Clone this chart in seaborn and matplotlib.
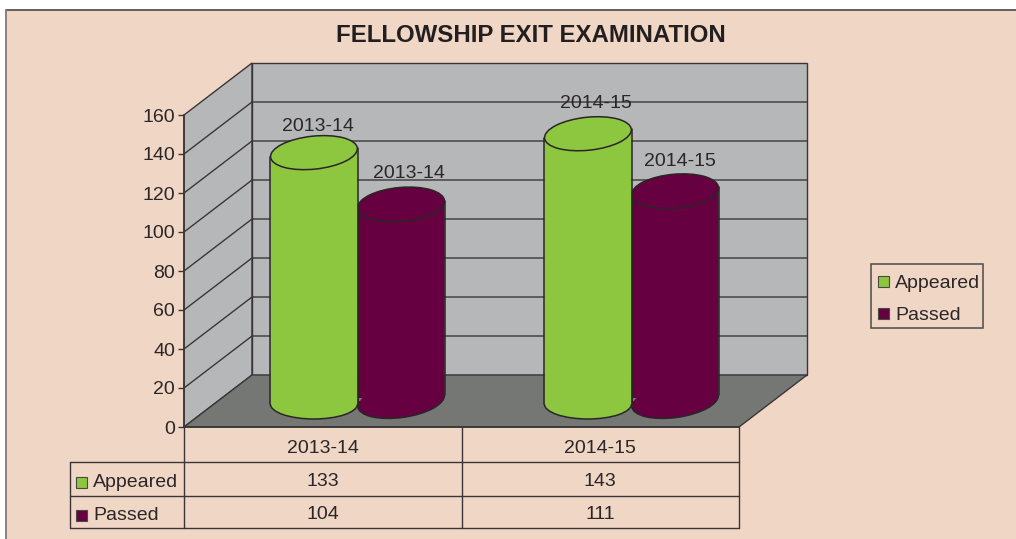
import matplotlib
matplotlib.use("Agg")
import matplotlib.pyplot as plt
from matplotlib.patches import Arc, Ellipse, Polygon, Rectangle
from matplotlib.transforms import Affine2D, IdentityTransform
from math import radians, sin
import pandas as pd
import seaborn as sns

years = ["2013-14", "2014-15"]
series_names = ["Appeared", "Passed"]
appeared = [133, 143]
passed = [104, 111]
y_ticks = [0, 20, 40, 60, 80, 100, 120, 140, 160]
title = "FELLOWSHIP EXIT EXAMINATION"

PANEL = "#EFD6C5"
WALL = "#B6B7B9"
FLOOR = "#757775"
LINE = "#3A3637"
TEXT = "#2B2627"
palette = {"Appeared": "#8DC63F", "Passed": "#660040"}

W, H = 1016, 539
FS = 14

sns.set_theme(style="white")
plt.rcParams["font.family"] = ["Liberation Sans", "DejaVu Sans"]
fig = plt.figure(figsize=(W / 100, H / 100), dpi=100, facecolor="white")


def axes_at(left, right, top, bottom, **kw):
    return fig.add_axes([left / W, 1 - bottom / H, (right - left) / W, (bottom - top) / H], **kw)


# ---- full-figure layer: panel, title, table, legend
px = axes_at(0, W, 0, H, zorder=0)
px.set_xlim(0, W)
px.set_ylim(H, 0)
px.axis("off")
px.add_patch(Rectangle((6, 10), W, H, fc=PANEL, ec="none"))
px.plot([5.5, W], [9.5, 9.5], color="#4A4646", lw=1.2)
px.plot([5.5, 5.5], [9.5, H], color="#8A807A", lw=1.4)
px.text(530.5, 36, title, ha="center", va="center", fontsize=17.3, fontweight="bold", color="#231F20")

# table
col_edges = [184, 462, 739]
row_edges = [462, 496, 528]
for x in col_edges:
    px.plot([x, x], [427, row_edges[-1]], color=LINE, lw=1.0)
px.plot([70, 70], [row_edges[0], row_edges[-1]], color=LINE, lw=1.0)
for y in row_edges:
    px.plot([70, col_edges[-1]], [y, y], color=LINE, lw=1.0)
for name, row_top, row_bot, vals in zip(series_names, row_edges[:-1], row_edges[1:], [appeared, passed]):
    cy = (row_top + row_bot) / 2 + 3
    px.add_patch(Rectangle((76, cy - 5.5), 11, 11, fc=palette[name], ec="#4A4A45", lw=0.8))
    px.text(93, cy + 0.5, name, ha="left", va="center", fontsize=FS, color=TEXT)
    for i, v in enumerate(vals):
        px.text((col_edges[i] + col_edges[i + 1]) / 2 - 0.5, cy - 0.5, str(v), ha="center", va="center",
                fontsize=FS, color=TEXT)

# legend box
px.add_patch(Rectangle((871, 264), 112, 64, fc=PANEL, ec="#5A5552", lw=1.2))
for name, ly in zip(series_names, [282, 314]):
    px.add_patch(Rectangle((878, ly - 6), 11, 11, fc=palette[name], ec="#4A4A45", lw=0.8))
    px.text(895, ly + 1, name, ha="left", va="center", fontsize=FS, color=TEXT)

# ---- front plane of the 3-D box: real value axis
ax = axes_at(184, 739, 115, 427, zorder=1)
ax.patch.set_alpha(0)
x0, x1 = -0.5, 1.5
y_max = y_ticks[-1]
ax.set_xlim(x0, x1)
ax.set_ylim(0, y_max)
dx = 68 / (555 / (x1 - x0))
dy = 52 / (312 / y_max)
kw = dict(clip_on=False, zorder=0)
ax.add_patch(Polygon([(x0, 0), (x0, y_max), (x0 + dx, y_max + dy), (x0 + dx, dy)], fc=WALL, ec=LINE, lw=1.0, **kw))
ax.add_patch(Polygon([(x0 + dx, dy), (x0 + dx, y_max + dy), (x1 + dx, y_max + dy), (x1 + dx, dy)],
                     fc=WALL, ec=LINE, lw=1.0, **kw))
ax.add_patch(Polygon([(x0, 0), (x1, 0), (x1 + dx, dy), (x0 + dx, dy)], fc=FLOOR, ec=LINE, lw=1.0, **kw))
for v in y_ticks[1:-1]:
    ax.plot([x0, x0 + dx, x1 + dx], [v, v + dy, v + dy], color=LINE, lw=1.0, clip_on=False, zorder=0.5)
for side in ("top", "right"):
    ax.spines[side].set_visible(False)
for side in ("left", "bottom"):
    ax.spines[side].set_color(LINE)
    ax.spines[side].set_linewidth(1.2)
ax.set_yticks(y_ticks)
ax.set_xticks(range(len(years)), years)
ax.tick_params(axis="y", left=True, length=4.5, width=1.0, color=LINE, labelsize=FS, labelcolor=TEXT, pad=2)
ax.tick_params(axis="x", bottom=False, labelsize=FS, labelcolor=TEXT, pad=3.5)

# ---- cylinders
df = pd.DataFrame({
    "year": years * 2,
    "series": [series_names[0]] * 2 + [series_names[1]] * 2,
    "count": appeared + passed,
})
cyl = axes_at(220.5, 768.5, 404 - 160 * 1.89, 404, zorder=2)
cyl.patch.set_alpha(0)
sns.barplot(data=df, x="year", y="count", hue="series", order=years, hue_order=series_names,
            palette=palette, width=0.636, gap=0, dodge=True, saturation=1, linewidth=0, legend=False, ax=cyl)
cyl.set_xlim(-0.5, 1.5)
cyl.set_ylim(0, y_max)
cyl.axis("off")

lift = {"Appeared": 0, "Passed": 3}
bottom_cap = {"Appeared": (30, 0), "Passed": (33, 8)}
top_cap = {"Appeared": (33, 6), "Passed": (34, 5)}
label_offsets = {"Appeared": [(4, 26), (8, 30)], "Passed": [(8, 31), (5, 30)]}
layer = {"Appeared": 10, "Passed": 5}
EDGE = "#2A2526"

for name, container in zip(series_names, cyl.containers):
    z = layer[name]
    for i, bar in enumerate(container):
        xl, w, val = bar.get_x(), bar.get_width(), bar.get_height()
        pl, pb = cyl.transData.transform((xl, 0))
        pr, pt = cyl.transData.transform((xl + w, val))
        pb += lift[name]
        pt += lift[name]
        pc = (pl + pr) / 2
        a = (pr - pl) / 2
        bar.set_transform(Affine2D().translate(0, lift[name]) + cyl.transData)
        bar.set_zorder(z + 1)
        hb, ab = bottom_cap[name]
        ht, at = top_cap[name]
        sb, st = a * sin(radians(ab)), a * sin(radians(at))
        disp = dict(transform=IdentityTransform(), clip_on=False)
        # the bar keeps only the part between the two tilted rims
        bar.set_clip_path(Polygon([(pl, pb - sb), (pr, pb + sb), (pr, pt + st), (pl, pt - st)],
                                  transform=IdentityTransform()))
        cyl.add_patch(Ellipse((pc, pb), pr - pl, hb, angle=ab, fc=palette[name], ec="none", zorder=z, **disp))
        cyl.add_patch(Polygon([(pl, pb - sb), (pc, pb), (pl, pb)], fc=palette[name], ec="none", zorder=z, **disp))
        cyl.add_patch(Arc((pc, pb), pr - pl, hb, angle=ab, theta1=180, theta2=360, ec=EDGE, lw=1.1, zorder=z + 2, **disp))
        cyl.add_patch(Ellipse((pc, pt), pr - pl, ht, angle=at, fc=palette[name], ec=EDGE, lw=1.1, zorder=z + 3, **disp))
        side = dict(color=EDGE, lw=1.1, zorder=z + 2, **disp)
        cyl.plot([pl, pl], [pb - sb, pt - st], **side)
        cyl.plot([pr, pr], [pb + sb, pt + st], **side)
        ox, oy = label_offsets[name][i]
        cyl.annotate(years[i], (xl + w / 2, val), xytext=(ox, oy + lift[name]), textcoords="offset pixels",
                     ha="center", va="center", fontsize=FS, color=TEXT, zorder=30, annotation_clip=False)

fig.savefig("out.png", dpi=100)
